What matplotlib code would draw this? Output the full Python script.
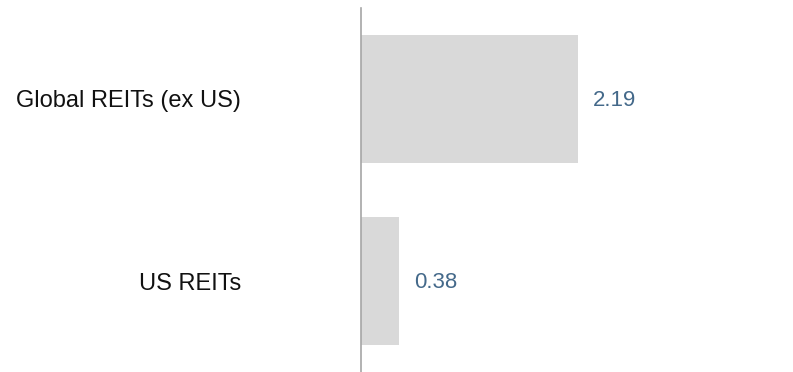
import matplotlib.pyplot as plt

categories = ["Global REITs (ex US)", "US REITs"]
values = [2.19, 0.38]
value_labels = ["2.19", "0.38"]

plt.rcParams['font.family'] = ['Liberation Sans', 'DejaVu Sans']

fig = plt.figure(figsize=(7.93, 3.72), dpi=100)
ax = fig.add_axes([361 / 793, 0, 1 - 361 / 793, 364 / 372])

pos = list(range(len(categories)))
ax.barh(pos, values, height=0.7, color='#d9d9d9')

# value labels just right of each bar
for p, v, lab in zip(pos, values, value_labels):
    ax.annotate(lab, (v, p), xytext=(11, -1), textcoords='offset points',
                va='center', ha='left', fontsize=16, color='#44698a')

ax.set_xlim(0, 432 / 99.1)
ax.set_ylim(1.5, -0.5)
ax.set_yticks(pos)
ax.set_yticklabels(categories, fontsize=17, color='#111111')
ax.tick_params(axis='y', length=0, pad=86.5)
ax.set_xticks([])
for s in ['top', 'right', 'bottom']:
    ax.spines[s].set_visible(False)
ax.spines['left'].set_color('#a6a6a6')
ax.spines['left'].set_linewidth(1.2)

fig.savefig('out.png', dpi=100)
